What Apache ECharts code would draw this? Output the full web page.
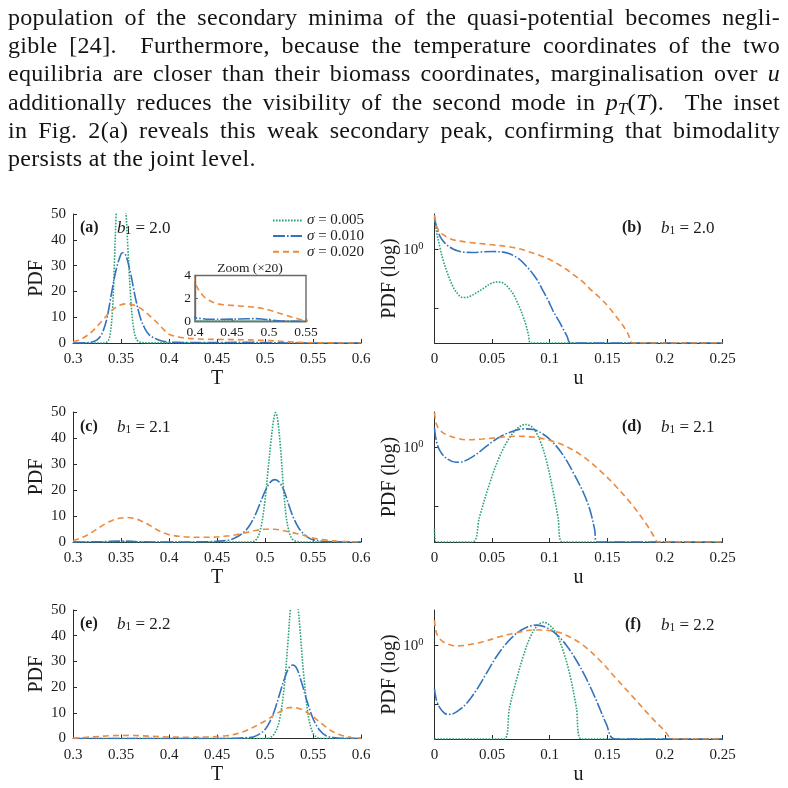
<!DOCTYPE html>
<html><head><meta charset="utf-8">
<title>pdf panels</title>
<script src="https://cdn.jsdelivr.net/npm/echarts@6/dist/echarts.min.js"></script>
<style>
html,body{margin:0;padding:0;background:#fff}
#chart{position:absolute;left:0;top:0;width:788px;height:788px}
#txt{position:absolute;left:8px;top:3px;width:772px;font-family:"Liberation Serif",serif;font-size:24px;line-height:28.2px;color:#141414;letter-spacing:0.3px;z-index:2}
#txt .l{text-align:justify;text-align-last:justify}
#txt .last{text-align:left;text-align-last:left}
#txt sub{font-size:0.7em;vertical-align:-0.25em;line-height:0}
</style>
</head>
<body>
<div id="chart"></div>
<div id="txt">
<div class="l">population of the secondary minima of the quasi-potential becomes negli-</div>
<div class="l">gible [24]. &nbsp;Furthermore, because the temperature coordinates of the two</div>
<div class="l">equilibria are closer than their biomass coordinates, marginalisation over <i>u</i></div>
<div class="l">additionally reduces the visibility of the second mode in <i>p<sub>T</sub></i>(<i>T</i>). &nbsp;The inset</div>
<div class="l">in Fig. 2(a) reveals this weak secondary peak, confirming that bimodality</div>
<div class="l last">persists at the joint level.</div>
</div>
<script>
// floor of the log panels (curves sit on the bottom axis once they vanish)
const FLOOR = 0.0251;
const LOG_MAX = 3.98;

const NAMES = ['σ = 0.005', 'σ = 0.010', 'σ = 0.020'];
const B1 = ['2.0', '2.1', '2.2'];

// (a) b1 = 2.0, PDF over T
const A_005 = [[0.3,0],[0.33,0],[0.335,0.3],[0.338,2],[0.341,12],[0.343,30],[0.345,50],[0.347,60],[0.35,62],[0.353,60],[0.355,52],[0.357,38],[0.36,18],[0.363,6],[0.366,1.5],[0.37,0.3],[0.38,0.05],[0.45,0.03],[0.5,0.02],[0.6,0]];
const A_010 = [[0.3,0],[0.31,0.05],[0.315,0.1],[0.32,0.4],[0.325,1.2],[0.33,3.5],[0.335,9],[0.34,19],[0.345,28.5],[0.35,34.5],[0.352,35],[0.355,34],[0.36,27],[0.365,17.5],[0.37,10],[0.375,5.5],[0.38,3],[0.39,1.1],[0.4,0.35],[0.41,0.25],[0.42,0.2],[0.44,0.2],[0.46,0.22],[0.48,0.25],[0.49,0.22],[0.5,0.15],[0.51,0.08],[0.52,0.03],[0.55,0],[0.6,0]];
const A_020 = [[0.3,0.5],[0.31,1.8],[0.32,4.5],[0.33,8.5],[0.34,12.5],[0.35,14.8],[0.357,15.2],[0.365,14.5],[0.37,13.5],[0.38,10.5],[0.39,7],[0.395,5],[0.4,3.4],[0.41,2.3],[0.42,1.8],[0.43,1.55],[0.44,1.45],[0.45,1.4],[0.46,1.35],[0.47,1.3],[0.48,1.25],[0.49,1.15],[0.5,1.0],[0.51,0.8],[0.52,0.6],[0.53,0.4],[0.54,0.22],[0.55,0.1],[0.56,0.05],[0.6,0]];

// (c) b1 = 2.1
const C_005 = [[0.3,0],[0.48,0],[0.487,0.1],[0.492,1.5],[0.496,6],[0.5,16],[0.503,27],[0.506,38],[0.509,47],[0.511,49.8],[0.513,47.5],[0.516,37],[0.519,22],[0.522,10],[0.525,4],[0.528,1.3],[0.532,0.3],[0.54,0],[0.6,0]];
const C_010 = [[0.3,0],[0.33,0.1],[0.35,0.35],[0.37,0.1],[0.4,0],[0.44,0.1],[0.46,0.6],[0.47,1.8],[0.48,4.5],[0.485,7],[0.49,10.5],[0.495,15],[0.5,19.5],[0.505,22.8],[0.51,24],[0.515,23],[0.52,19.5],[0.525,14],[0.53,9],[0.535,5.5],[0.54,3.2],[0.545,1.7],[0.55,0.9],[0.56,0.3],[0.57,0.1],[0.6,0]];
const C_020 = [[0.3,0.5],[0.31,1.8],[0.32,3.8],[0.33,6.2],[0.34,8.2],[0.35,9.2],[0.357,9.4],[0.365,8.9],[0.37,8.3],[0.38,6.4],[0.39,4.2],[0.4,2.8],[0.41,2.2],[0.42,1.9],[0.44,1.8],[0.46,2.3],[0.47,2.8],[0.48,3.6],[0.49,4.4],[0.5,4.9],[0.51,4.9],[0.52,4.3],[0.53,3.5],[0.54,2.6],[0.55,1.5],[0.56,0.9],[0.57,0.5],[0.58,0.2],[0.6,0.05]];

// (e) b1 = 2.2
const E_005 = [[0.3,0],[0.5,0],[0.505,0.3],[0.51,2],[0.515,7],[0.52,20],[0.524,38],[0.527,52],[0.5305,58],[0.534,52],[0.537,40],[0.54,26],[0.545,9],[0.55,2],[0.555,0.3],[0.56,0],[0.6,0]];
const E_010 = [[0.3,0],[0.45,0],[0.47,0.1],[0.48,0.3],[0.4877,0.6],[0.495,1.9],[0.5,3.5],[0.505,6.5],[0.51,11],[0.515,17],[0.52,23],[0.525,27.5],[0.529,28.6],[0.533,27.3],[0.538,22],[0.543,15.5],[0.55,7.8],[0.557,3.2],[0.564,1],[0.571,0.4],[0.58,0.1],[0.6,0]];
const E_020 = [[0.3,0.1],[0.32,0.6],[0.34,1.1],[0.36,1.2],[0.38,0.9],[0.4,0.6],[0.42,0.5],[0.44,0.6],[0.45,0.8],[0.46,1.1],[0.47,1.8],[0.48,3],[0.49,4.8],[0.5,6.8],[0.51,9.2],[0.52,11.3],[0.525,12],[0.53,12],[0.535,11.7],[0.54,11],[0.55,8.5],[0.56,5.5],[0.57,2.8],[0.58,1.2],[0.59,0.4],[0.6,0.1]];

// (b) b1 = 2.0, PDF over u (log)
const B_005 = [[0,3.35],[0.002,1.86],[0.0049,1.04],[0.0078,0.62],[0.0121,0.35],[0.0165,0.22],[0.02,0.175],[0.0237,0.151],[0.027,0.15],[0.031,0.158],[0.0353,0.175],[0.0396,0.197],[0.044,0.225],[0.0483,0.255],[0.054,0.275],[0.0598,0.263],[0.0656,0.204],[0.0685,0.17],[0.0714,0.13],[0.0745,0.095],[0.0772,0.068],[0.0795,0.05],[0.0815,0.035],[0.0838,FLOOR],[0.25,FLOOR]];
const B_010 = [[0,3.55],[0.002,2.27],[0.0049,1.64],[0.0078,1.35],[0.0107,1.18],[0.0135,1.08],[0.0165,1.0],[0.02,0.94],[0.025,0.89],[0.0338,0.88],[0.0425,0.9],[0.0512,0.91],[0.0598,0.89],[0.064,0.85],[0.0685,0.78],[0.073,0.69],[0.0772,0.58],[0.0815,0.47],[0.0858,0.37],[0.09,0.28],[0.0945,0.19],[0.099,0.13],[0.103,0.088],[0.1075,0.062],[0.1118,0.043],[0.115,0.033],[0.1182,FLOOR],[0.25,FLOOR]];
const B_020 = [[0,3.8],[0.002,2.4],[0.005,1.95],[0.008,1.75],[0.012,1.55],[0.0165,1.44],[0.022,1.37],[0.028,1.32],[0.035,1.27],[0.0425,1.23],[0.05,1.19],[0.057,1.15],[0.064,1.1],[0.0714,1.04],[0.078,0.96],[0.0858,0.855],[0.093,0.76],[0.1003,0.66],[0.107,0.56],[0.1147,0.45],[0.122,0.35],[0.129,0.275],[0.136,0.2],[0.1436,0.148],[0.15,0.11],[0.155,0.083],[0.16,0.062],[0.1639,0.049],[0.168,0.036],[0.1725,FLOOR],[0.25,FLOOR]];

// (d) b1 = 2.1
const D_005 = [[0,0.042],[0.0015,FLOOR],[0.0327,FLOOR],[0.039,0.066],[0.0478,0.245],[0.0565,0.70],[0.065,1.45],[0.0724,2.14],[0.079,2.45],[0.0855,2.14],[0.0913,1.35],[0.097,0.615],[0.1028,0.188],[0.1072,0.066],[0.111,FLOOR],[0.25,FLOOR]];
const D_010 = [[0,2.14],[0.0014,1.35],[0.0043,0.91],[0.0101,0.66],[0.0188,0.56],[0.0246,0.575],[0.0333,0.70],[0.042,0.935],[0.0507,1.27],[0.0594,1.61],[0.068,1.88],[0.0768,2.06],[0.0855,2.01],[0.0941,1.69],[0.1028,1.22],[0.1115,0.75],[0.12,0.39],[0.129,0.176],[0.1347,0.091],[0.139,0.041],[0.141,FLOOR],[0.25,FLOOR]];
const D_020 = [[0,3.9],[0.0014,2.6],[0.0043,2.0],[0.0101,1.65],[0.0188,1.45],[0.0275,1.35],[0.042,1.39],[0.0565,1.48],[0.071,1.55],[0.0855,1.5],[0.1,1.32],[0.1144,1.04],[0.129,0.70],[0.1434,0.41],[0.158,0.214],[0.172,0.104],[0.184,0.05],[0.191,0.03],[0.194,FLOOR],[0.25,FLOOR]];

// (f) b1 = 2.2
const F_005 = [[0,FLOOR],[0.06,FLOOR],[0.0652,0.088],[0.071,0.25],[0.0768,0.63],[0.0826,1.3],[0.0884,2.06],[0.0947,2.45],[0.0999,2.2],[0.1057,1.58],[0.1115,0.82],[0.1173,0.327],[0.1231,0.088],[0.1275,FLOOR],[0.25,FLOOR]];
const F_010 = [[0,0.18],[0.0014,0.122],[0.0043,0.0877],[0.0087,0.069],[0.013,0.066],[0.0188,0.072],[0.0275,0.1],[0.0362,0.169],[0.0449,0.327],[0.0536,0.63],[0.0623,1.07],[0.071,1.58],[0.0797,2.01],[0.0884,2.2],[0.097,2.01],[0.1057,1.54],[0.1144,1.0],[0.1231,0.553],[0.1318,0.268],[0.1405,0.114],[0.1492,0.045],[0.1564,FLOOR],[0.25,FLOOR]];
const F_020 = [[0,2.68],[0.0014,1.69],[0.0043,1.30],[0.0101,1.07],[0.0188,0.97],[0.0275,1.0],[0.042,1.14],[0.0565,1.39],[0.071,1.63],[0.0855,1.81],[0.0941,1.81],[0.1057,1.69],[0.1144,1.48],[0.1289,1.0],[0.1434,0.553],[0.1579,0.268],[0.1724,0.13],[0.1868,0.063],[0.1984,0.037],[0.2077,FLOOR],[0.25,FLOOR]];

const FONT = '"Liberation Serif", "DejaVu Serif", serif';
const INK = '#1c1c1c';
const AX = '#2b2b2b';
const STYLE = {
  'σ = 0.005': {color: '#2ba37a', dash: [1.6, 1.4]},
  'σ = 0.010': {color: '#3473bd', dash: [12, 2, 1.6, 2]},
  'σ = 0.020': {color: '#ec8b3f', dash: [6, 4]}
};

const chart = echarts.init(document.getElementById('chart'));

// grids: 0 a, 1 b, 2 c, 3 d, 4 e, 5 f, 6 inset
const grids = [
  {left: 73, top: 214, width: 288, height: 129},
  {left: 434.5, top: 214, width: 288, height: 129},
  {left: 73, top: 412, width: 288, height: 130},
  {left: 434.5, top: 412, width: 288, height: 130},
  {left: 73, top: 610, width: 288, height: 128.5},
  {left: 434.5, top: 610, width: 288, height: 129},
  {left: 195, top: 275.5, width: 111, height: 46, show: true, backgroundColor: '#fff', borderColor: '#6a6a6a', borderWidth: 1.4, z: 20}
];

const lbl = {color: INK, fontFamily: FONT, fontSize: 15};
const nameStyle = {color: INK, fontFamily: FONT, fontSize: 20};

function xT(i) {
  return {type: 'value', gridIndex: i, min: 0.3, max: 0.6, interval: 0.05, name: 'T', nameLocation: 'middle', nameGap: 26, nameTextStyle: nameStyle,
    axisLine: {show: true, onZero: false, lineStyle: {color: AX}}, axisTick: {show: true, inside: true, length: 4, lineStyle: {color: AX}},
    axisLabel: Object.assign({margin: 9}, lbl), splitLine: {show: false}};
}
function xU(i) {
  return {type: 'value', gridIndex: i, min: 0, max: 0.25, interval: 0.05, name: 'u', nameLocation: 'middle', nameGap: 26, nameTextStyle: nameStyle,
    axisLine: {show: true, onZero: false, lineStyle: {color: AX}}, axisTick: {show: true, inside: true, length: 4, lineStyle: {color: AX}},
    axisLabel: Object.assign({margin: 9}, lbl), splitLine: {show: false}};
}
function yLin(i) {
  return {type: 'value', gridIndex: i, min: 0, max: 50, interval: 10, name: 'PDF', nameLocation: 'middle', nameGap: 24, nameTextStyle: nameStyle,
    axisLine: {show: true, onZero: false, lineStyle: {color: AX}}, axisTick: {show: true, inside: true, length: 4, lineStyle: {color: AX}},
    axisLabel: Object.assign({margin: 7}, lbl), splitLine: {show: false}};
}
function yLog(i) {
  return {type: 'log', logBase: 10, gridIndex: i, min: FLOOR, max: LOG_MAX, name: 'PDF (log)', nameLocation: 'middle', nameGap: 31, nameTextStyle: nameStyle,
    axisLine: {show: true, onZero: false, lineStyle: {color: AX}},
    axisTick: {show: true, inside: true, length: 4, customValues: [0.1, 1], lineStyle: {color: AX}},
    axisLabel: {margin: 11, customValues: [1], formatter: () => '{a|10}{s|0}',
      rich: {a: {fontFamily: FONT, fontSize: 15, color: INK, lineHeight: 17, verticalAlign: 'bottom'},
             s: {fontFamily: FONT, fontSize: 10.5, color: INK, lineHeight: 10, verticalAlign: 'top'}}},
    splitLine: {show: false}};
}

const xAxes = [xT(0), xU(1), xT(2), xU(3), xT(4), xU(5),
  {type: 'value', gridIndex: 6, min: 0.4, max: 0.55, interval: 0.05, z: 21,
   axisLine: {show: true, onZero: false, lineStyle: {color: '#6a6a6a', width: 1.4}}, axisTick: {show: true, inside: true, length: 3, lineStyle: {color: '#6a6a6a'}},
   axisLabel: {margin: 4, color: INK, fontFamily: FONT, fontSize: 13.5}, splitLine: {show: false}}];
const yAxes = [yLin(0), yLog(1), yLin(2), yLog(3), yLin(4), yLog(5),
  {type: 'value', gridIndex: 6, min: 0, max: 4, interval: 2, z: 21,
   axisLine: {show: true, onZero: false, lineStyle: {color: '#6a6a6a', width: 1.4}}, axisTick: {show: true, inside: true, length: 3, lineStyle: {color: '#6a6a6a'}},
   axisLabel: {margin: 4, color: INK, fontFamily: FONT, fontSize: 13.5}, splitLine: {show: false}}];

function curve(name, data, idx, z) {
  const st = STYLE[name];
  return {type: 'line', name: name, data: data, xAxisIndex: idx, yAxisIndex: idx, symbol: 'none', smooth: 0.35, clip: true,
    z: z || 3, silent: true, lineStyle: {color: st.color, width: 1.6, type: st.dash}, itemStyle: {color: st.color}};
}

const panels = [[A_005, A_010, A_020], [B_005, B_010, B_020], [C_005, C_010, C_020],
                [D_005, D_010, D_020], [E_005, E_010, E_020], [F_005, F_010, F_020]];
const series = [];
panels.forEach((p, i) => p.forEach((d, k) => series.push(curve(NAMES[k], d, i))));
[A_005, A_010, A_020].forEach((d, k) => series.push(curve(NAMES[k], d, 6, 22)));

// panel tags
const tagRich = {
  i: {fontFamily: FONT, fontSize: 17, fontStyle: 'italic', fill: INK, lineHeight: 18, verticalAlign: 'bottom'},
  s: {fontFamily: FONT, fontSize: 11.5, fill: INK, lineHeight: 10, verticalAlign: 'bottom'},
  n: {fontFamily: FONT, fontSize: 17, fill: INK, lineHeight: 18, verticalAlign: 'bottom'}
};
const tags = [['(a)', 80, 228, 0], ['(b)', 622, 228, 0], ['(c)', 80, 427, 1], ['(d)', 622, 427, 1], ['(e)', 80, 624, 2], ['(f)', 625, 625, 2]];
const graphic = [];
tags.forEach(t => {
  const bx = t[1] < 400 ? 117 : 661;
  graphic.push({type: 'text', x: t[1], y: t[2], z: 30, style: {text: t[0], font: 'bold 16px ' + FONT, fill: INK, verticalAlign: 'middle'}});
  graphic.push({type: 'text', x: bx, y: t[2] - 9, z: 30, style: {text: '{i|b}{s|1}{n| = ' + B1[t[3]] + '}', rich: tagRich}});
});
graphic.push({type: 'text', x: 250, y: 268.5, z: 30, style: {text: 'Zoom (×20)', font: '13.5px ' + FONT, fill: INK, align: 'center', verticalAlign: 'middle'}});

chart.setOption({
  animation: false,
  backgroundColor: 'transparent',
  grid: grids,
  xAxis: xAxes,
  yAxis: yAxes,
  legend: {data: NAMES, orient: 'vertical', left: 272, top: 213, padding: 0, itemWidth: 29, itemHeight: 14, itemGap: 0.6, z: 30,
    selectedMode: false, itemStyle: {opacity: 0},
    formatter: n => '{i|σ}{t|' + n.slice(1) + '}',
    textStyle: {rich: {i: {fontFamily: FONT, fontSize: 15, fontStyle: 'italic', color: INK}, t: {fontFamily: FONT, fontSize: 15, color: INK}}}},
  series: series,
  graphic: graphic
});
</script>
</body></html>
